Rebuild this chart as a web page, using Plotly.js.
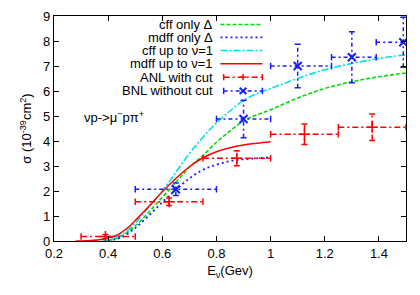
<!DOCTYPE html>
<html><head><meta charset="utf-8">
<script src="https://cdn.plot.ly/plotly-3.0.1.min.js"></script>
<style>html,body{margin:0;padding:0;background:#fff}#chart{width:420px;height:295px}</style>
</head><body><div id="chart"></div>
<script>
// ---- curves ----
const cffDeltaX = [0.38,0.4,0.45,0.5,0.55,0.6,0.65,0.7,0.75,0.8,0.85,0.9,0.95,1.0,1.1,1.2,1.3,1.4,1.5];
const cffDeltaY = [0,0.02,0.2,0.6,1.15,1.75,2.35,2.95,3.42,3.95,4.4,4.8,5.05,5.25,5.72,6.1,6.37,6.57,6.72];
const mdffDeltaX = [0.4,0.45,0.5,0.55,0.6,0.65,0.7,0.75,0.8,0.85,0.9,0.95,1.0];
const mdffDeltaY = [0,0.15,0.52,1.02,1.55,2.05,2.5,2.85,3.05,3.2,3.27,3.31,3.34];
const cffNuX = [0.38,0.4,0.45,0.5,0.55,0.6,0.65,0.7,0.75,0.8,0.85,0.9,0.95,1.0,1.1,1.2,1.3,1.4,1.5];
const cffNuY = [0,0.03,0.25,0.72,1.35,2.0,2.75,3.5,4.15,4.72,5.2,5.62,5.9,6.1,6.5,6.85,7.1,7.3,7.45];
const mdffNuX = [0.28,0.32,0.36,0.4,0.43,0.45,0.48,0.5,0.55,0.6,0.65,0.7,0.75,0.8,0.85,0.9,0.95,1.0];
const mdffNuY = [0,0.01,0.04,0.12,0.22,0.35,0.6,0.82,1.38,1.97,2.5,2.97,3.33,3.57,3.73,3.84,3.91,3.97];
// ---- data points ----
const anlX = [0.39,0.625,0.875,1.125,1.375];
const anlXlo = [0.3,0.5,0.75,1.0,1.25];
const anlXhi = [0.5,0.75,1.0,1.25,1.5];
const anlY = [0.18,1.57,3.31,4.27,4.55];
const anlYerr = [0.08,0.15,0.3,0.41,0.53];
const bnlX = [0.65,0.9,1.1,1.3,1.49];
const bnlXlo = [0.5,0.8,1.0,1.225,1.39];
const bnlXhi = [0.8,1.0,1.225,1.39,1.6];
const bnlY = [2.07,4.88,7.0,7.35,7.95];
const bnlYerr = [0.25,0.75,0.87,1.02,1.0];
// ---- labels ----
const legendNames = ["cff only \u0394","mdff only \u0394","cff up to \u03bd=1","mdff up to \u03bd=1","ANL with cut","BNL without cut"];
const xTicks = [0.2,0.4,0.6,0.8,1,1.2,1.4];
const xTickText = ["0.2","0.4","0.6","0.8","1","1.2","1.4"];

const GREEN='#00dd00', BLUE='#1a1aff', CYAN='#00e0e8', RED='#ff0000';
const FONT = 'Liberation Sans, Arial, sans-serif';

function barLines(xs, xlo, xhi, ys, yerr){
  const X=[],Y=[];
  for(let i=0;i<xs.length;i++){
    X.push(xlo[i],xhi[i],null, xs[i],xs[i],null);
    Y.push(ys[i],ys[i],null, ys[i]-yerr[i],ys[i]+yerr[i],null);
  }
  return {X,Y};
}
function capLines(xs, xlo, xhi, ys, yerr){
  const cy=0.13, cx=0.011, X=[],Y=[];
  for(let i=0;i<xs.length;i++){
    X.push(xlo[i],xlo[i],null, xhi[i],xhi[i],null,
           xs[i]-cx,xs[i]+cx,null, xs[i]-cx,xs[i]+cx,null);
    Y.push(ys[i]-cy,ys[i]+cy,null, ys[i]-cy,ys[i]+cy,null,
           ys[i]-yerr[i],ys[i]-yerr[i],null, ys[i]+yerr[i],ys[i]+yerr[i],null);
  }
  return {X,Y};
}
const anlB = barLines(anlX,anlXlo,anlXhi,anlY,anlYerr);
const anlC = capLines(anlX,anlXlo,anlXhi,anlY,anlYerr);
const bnlB = barLines(bnlX,bnlXlo,bnlXhi,bnlY,bnlYerr);
const bnlC = capLines(bnlX,bnlXlo,bnlXhi,bnlY,bnlYerr);

const traces = [
  {x:cffDeltaX,y:cffDeltaY,mode:'lines',name:legendNames[0],line:{color:GREEN,width:1.6,dash:'4px,2px',shape:'spline'}},
  {x:mdffDeltaX,y:mdffDeltaY,mode:'lines',name:legendNames[1],line:{color:BLUE,width:1.8,dash:'2px,3px',shape:'spline'}},
  {x:cffNuX,y:cffNuY,mode:'lines',name:legendNames[2],line:{color:CYAN,width:1.6,dash:'7px,2px,2px,2px',shape:'spline'}},
  {x:mdffNuX,y:mdffNuY,mode:'lines',name:legendNames[3],line:{color:RED,width:1.5,shape:'spline'}},
  {x:anlB.X,y:anlB.Y,mode:'lines',name:legendNames[4],line:{color:RED,width:1.5,dash:'6px,3px,2px,3px'},connectgaps:false},
  {x:anlC.X,y:anlC.Y,mode:'lines',line:{color:RED,width:1.5},connectgaps:false},
  {x:anlX,y:anlY,mode:'markers',marker:{symbol:'cross-thin',size:8,line:{color:RED,width:1.5}}},
  {x:bnlB.X,y:bnlB.Y,mode:'lines',name:legendNames[5],line:{color:BLUE,width:1.5,dash:'4px,3px,2px,3px'},connectgaps:false},
  {x:bnlC.X,y:bnlC.Y,mode:'lines',line:{color:BLUE,width:1.5},connectgaps:false},
  {x:bnlX,y:bnlY,mode:'markers',marker:{symbol:'x-thin',size:8,line:{color:BLUE,width:2}}}
];

// ---- manual gnuplot-style key (text left, sample right) ----
const keyTextX = 0.458, k0 = 0.473, k1 = 0.592, km = (k0+k1)/2;
const keyRows = [0.962,0.905,0.847,0.788,0.728,0.667];
const annotations = legendNames.map((t,i)=>({
  text:t, xref:'paper', yref:'paper', x:keyTextX, y:keyRows[i], xanchor:'right', yanchor:'middle',
  showarrow:false, font:{family:FONT,size:13,color:'#000'}
}));
annotations.push({text:'\u03bdp->\u03bc<sup>\u2212</sup>p\u03c0<sup>+</sup>', xref:'paper', yref:'paper', x:0.08, y:0.553,
  xanchor:'left', yanchor:'middle', showarrow:false, font:{family:FONT,size:13,color:'#000'}});

const shapes = [];
const keyStyles = [
  {color:GREEN,width:1.6,dash:'4px,2px'},
  {color:BLUE,width:1.8,dash:'2px,3px'},
  {color:CYAN,width:1.6,dash:'7px,2px,2px,2px'},
  {color:RED,width:1.5,dash:'solid'},
  {color:RED,width:1.5,dash:'6px,3px,2px,3px'},
  {color:BLUE,width:1.5,dash:'4px,3px,2px,3px'}
];
keyStyles.forEach((s,i)=>{
  shapes.push({type:'line',xref:'paper',yref:'paper',x0:(i>3?0.482:k0),x1:k1,y0:keyRows[i],y1:keyRows[i],line:s});
});
const cyP=0.014, cxP=0.0095, cyM=0.014;
[4,5].forEach(i=>{
  const c = keyStyles[i].color, y=keyRows[i];
  shapes.push({type:'line',xref:'paper',yref:'paper',x0:0.482,x1:0.482,y0:y-cyP,y1:y+cyP,line:{color:c,width:1.5}});
  shapes.push({type:'line',xref:'paper',yref:'paper',x0:k1,x1:k1,y0:y-cyP,y1:y+cyP,line:{color:c,width:1.5}});
  const mx=(0.482+k1)/2;
  if(i===4){
    shapes.push({type:'line',xref:'paper',yref:'paper',x0:mx-cxP,x1:mx+cxP,y0:y,y1:y,line:{color:c,width:1.5}});
    shapes.push({type:'line',xref:'paper',yref:'paper',x0:mx,x1:mx,y0:y-cyM,y1:y+cyM,line:{color:c,width:1.5}});
  } else {
    shapes.push({type:'line',xref:'paper',yref:'paper',x0:mx-cxP,x1:mx+cxP,y0:y-cyM,y1:y+cyM,line:{color:c,width:2}});
    shapes.push({type:'line',xref:'paper',yref:'paper',x0:mx-cxP,x1:mx+cxP,y0:y+cyM,y1:y-cyM,line:{color:c,width:2}});
  }
});

const layout = {
  width:420, height:295,
  margin:{l:53.5,r:14.3,t:16,b:54,pad:0},
  paper_bgcolor:'#fff', plot_bgcolor:'#fff',
  showlegend:false,
  font:{family:FONT,size:13,color:'#000'},
  xaxis:{range:[0.2,1.5],tickvals:xTicks,ticktext:xTickText,ticks:'inside',ticklen:5,tickcolor:'#000',
    showline:true,linecolor:'#000',linewidth:1.2,mirror:'ticks',showgrid:false,zeroline:false,
    tickfont:{family:FONT,size:13},
    title:{text:'E<sub>\u03bd</sub>(Gev)',font:{family:FONT,size:13},standoff:6}},
  yaxis:{range:[0,9],dtick:1,ticks:'inside',ticklen:5,tickcolor:'#000',
    showline:true,linecolor:'#000',linewidth:1.2,mirror:'ticks',showgrid:false,zeroline:false,
    tickfont:{family:FONT,size:13},
    title:{text:'\u03c3 (10<sup>-39</sup>cm<sup>2</sup>)',font:{family:FONT,size:13},standoff:8}},
  annotations, shapes
};
Plotly.newPlot('chart', traces, layout, {staticPlot:true, displayModeBar:false});
</script></body></html>
